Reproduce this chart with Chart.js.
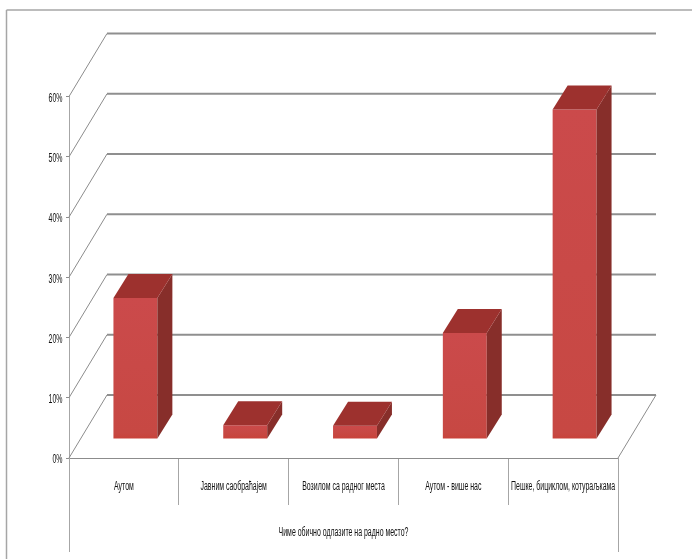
<!DOCTYPE html>
<html>
<head>
<meta charset="utf-8">
<style>
  html, body { margin: 0; padding: 0; background: #fff; }
  canvas { display: block; filter: blur(0.6px); }
</style>
</head>
<body>
<canvas id="chart" width="692" height="559"></canvas>
<script src="https://cdn.jsdelivr.net/npm/chart.js@4"></script>
<script>
// Data
const categories = ['Аутом', 'Јавним саобраћајем', 'Возилом са радног места', 'Аутом - више нас', 'Пешке, бициклом, котураљкама'];
const shares = [23.4, 2.3, 2.2, 17.6, 54.7];
const axisTitle = 'Чиме обично одлазите на радно место?';
const yTicks = [0, 10, 20, 30, 40, 50, 60];

// 3D look: depth of the floor and depth of a bar
const wallDx = 38, wallDy = -63;
const barShiftX = 11.5, barShiftY = -19;
const barDx = 15, barDy = -24;
// the original text is very condensed, no installed font is that narrow
const textSqueeze = 0.58;

function frontColor(c) {
    const chart = c.chart;
    if (!chart.scales.y || c.raw === undefined) return '#c9473f';
    const top = chart.scales.y.getPixelForValue(c.raw);
    const base = chart.scales.y.getPixelForValue(0);
    if (!isFinite(top) || !isFinite(base)) return '#c9473f';
    const g = chart.ctx.createLinearGradient(0, top, 0, base);
    const band = Math.min(0.9, 6 / Math.max(1, base - top));
    g.addColorStop(0, '#cb4a4b');
    g.addColorStop(1 - band, '#c74843');
    g.addColorStop(1, '#c8423a');
    return g;
}

function line(ctx, x1, y1, x2, y2) {
    ctx.beginPath();
    ctx.moveTo(x1, y1);
    ctx.lineTo(x2, y2);
    ctx.stroke();
}

function face(ctx, pts, color) {
    ctx.fillStyle = color;
    ctx.beginPath();
    pts.forEach((p, i) => i ? ctx.lineTo(p[0], p[1]) : ctx.moveTo(p[0], p[1]));
    ctx.closePath();
    ctx.fill();
}

function squeezedText(ctx, text, x, y, align) {
    ctx.save();
    ctx.translate(x, y);
    ctx.scale(textSqueeze, 1);
    ctx.textAlign = align;
    ctx.textBaseline = 'middle';
    ctx.font = '12px "Liberation Sans", sans-serif';
    ctx.fillStyle = '#111';
    ctx.fillText(text, 0, 0);
    ctx.restore();
}

const chart3d = {
    id: 'chart3d',
    beforeDraw(chart) {
        // outer frame, open on the right and at the bottom
        const ctx = chart.ctx;
        ctx.save();
        ctx.strokeStyle = '#a6a6a6';
        ctx.lineWidth = 1.5;
        line(ctx, 6.5, 10, 692, 10);
        line(ctx, 6.5, 10, 6.5, 559);
        ctx.restore();
    },
    beforeDatasetsDraw(chart) {
        const ctx = chart.ctx, y = chart.scales.y, area = chart.chartArea;
        ctx.save();
        yTicks.forEach(v => {
            const py = y.getPixelForValue(v);
            ctx.strokeStyle = '#8c8c8c';
            ctx.lineWidth = 1;
            line(ctx, area.left, py, area.left + wallDx, py + wallDy);
            ctx.strokeStyle = '#8f8f8f';
            ctx.lineWidth = 2;
            line(ctx, area.left + wallDx, py + wallDy, area.right + wallDx, py + wallDy);
        });
        // right edge of the floor
        ctx.strokeStyle = '#8c8c8c';
        ctx.lineWidth = 1;
        const y0 = y.getPixelForValue(0);
        line(ctx, area.right, y0, area.right + wallDx, y0 + wallDy);
        // outer lines of the category axis box
        ctx.strokeStyle = '#a6a6a6';
        line(ctx, Math.round(area.left) + 0.5, y0, Math.round(area.left) + 0.5, 552);
        line(ctx, Math.round(area.right) + 0.5, y0, Math.round(area.right) + 0.5, 552);
        ctx.restore();
        // bars stand back from the front edge of the floor
        ctx.save();
        ctx.translate(barShiftX, barShiftY);
    },
    afterDatasetsDraw(chart) {
        const ctx = chart.ctx;
        chart.getDatasetMeta(0).data.forEach(bar => {
            const l = bar.x - bar.width / 2, r = bar.x + bar.width / 2;
            face(ctx, [[r, bar.y], [r + barDx, bar.y + barDy], [r + barDx, bar.base + barDy], [r, bar.base]], '#872e2a');
            face(ctx, [[l, bar.y], [l + barDx, bar.y + barDy], [r + barDx, bar.y + barDy], [r, bar.y]], '#9d312e');
        });
        ctx.restore();
    },
    afterDraw(chart) {
        const ctx = chart.ctx, x = chart.scales.x, y = chart.scales.y;
        y.ticks.forEach(t => {
            squeezedText(ctx, t.value + '%', 62.5, y.getPixelForValue(t.value) + 2, 'right');
        });
        chart.data.labels.forEach((label, i) => {
            squeezedText(ctx, label, x.getPixelForTick(i), 487, 'center');
        });
        squeezedText(ctx, axisTitle, (x.left + x.right) / 2, 533, 'center');
    }
};

new Chart(document.getElementById('chart').getContext('2d'), {
    type: 'bar',
    data: {
        labels: categories,
        datasets: [{
            data: shares,
            backgroundColor: frontColor,
            borderWidth: 0,
            barPercentage: 0.4,
            categoryPercentage: 1,
            clip: false
        }]
    },
    options: {
        responsive: false,
        animation: false,
        layout: { padding: { top: 96.5, right: 74, bottom: 0, left: 0 } },
        plugins: { legend: { display: false }, tooltip: { enabled: false } },
        scales: {
            x: {
                afterFit: s => { s.height = 101; },
                border: { display: true, color: '#8c8c8c', width: 1 },
                grid: { drawOnChartArea: false, tickLength: 47, color: '#a6a6a6' },
                ticks: { display: false, autoSkip: false }
            },
            y: {
                min: 0,
                max: 60,
                afterFit: s => { s.width = 69; },
                border: { display: true, color: '#a6a6a6', width: 1 },
                grid: { drawOnChartArea: false, tickLength: 3, color: '#8c8c8c' },
                ticks: { display: false, stepSize: 10 }
            }
        }
    },
    plugins: [chart3d]
});
</script>
</body>
</html>
